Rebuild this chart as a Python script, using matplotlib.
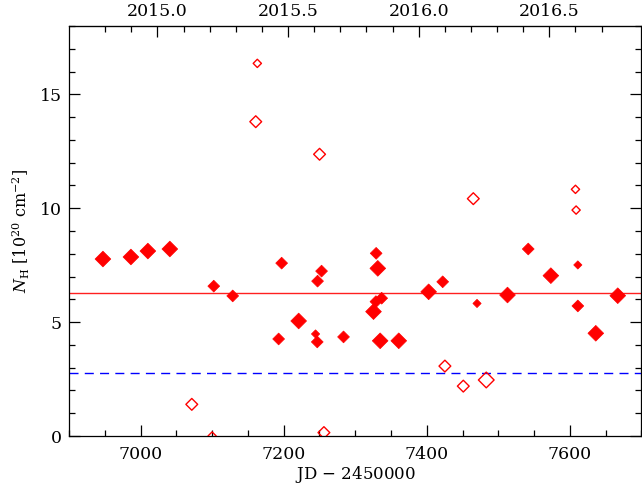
import numpy as np
import matplotlib.pyplot as plt
from matplotlib.ticker import MultipleLocator, FixedLocator

# Data
#------------------------------------------------
# filled diamonds (JD - 2450000, N_H in 1e20 cm^-2, weight 1..3)
filled_jd = [6947.4, 6986.5, 7010.2, 7040.9, 7102.3, 7128.8, 7197.2, 7193.0,
             7221.0, 7247.4, 7253.0, 7244.6, 7247.0, 7283.7, 7329.3, 7331.6,
             7337.0, 7329.0, 7325.6, 7334.9, 7360.9, 7402.7, 7422.3, 7470.3,
             7512.9, 7541.9, 7573.5, 7611.2, 7611.2, 7636.3, 7667.0]
filled_nh = [7.77, 7.86, 8.12, 8.21, 6.58, 6.15, 7.59, 4.26,
             5.05, 6.80, 7.24, 4.48, 4.13, 4.35, 8.02, 7.36,
             6.05, 5.90, 5.46, 4.18, 4.18, 6.33, 6.77, 5.82,
             6.19, 8.21, 7.04, 7.51, 5.71, 4.51, 6.16]
filled_wt = [3, 3, 3, 3, 2, 2, 2, 2,
             3, 2, 2, 1, 2, 2, 2, 3,
             2, 2, 3, 3, 3, 3, 2, 1,
             3, 2, 3, 1, 2, 3, 3]

# open diamonds
open_jd = [7163.2, 7161.0, 7250.2, 7465.1, 7607.9, 7608.8,
           7071.6, 7100.0, 7256.3, 7425.4, 7451.1, 7483.2]
open_nh = [16.36, 13.80, 12.37, 10.42, 10.83, 9.92,
           1.39, 0.0, 0.15, 3.07, 2.19, 2.46]
open_wt = [1, 2, 2, 2, 1, 1,
           2, 1, 2, 2, 2, 3]

nh_mean = 6.28     # solid red line
nh_gal = 2.75      # dashed blue line
year_ticks = [2015.0, 2015.5, 2016.0, 2016.5]
#------------------------------------------------

plt.rcParams['font.family'] = 'DejaVu Serif'
plt.rcParams['mathtext.fontset'] = 'dejavuserif'
plt.rcParams['font.size'] = 12

size_of = {1: 4.2, 2: 6.0, 3: 8.0}

fig = plt.figure(figsize=(6.42, 4.91), dpi=100)
ax = fig.add_axes([0.1075, 0.112, 0.8915, 0.835])

ax.axhline(nh_mean, color='#ff2020', lw=1.0, zorder=1)
ax.axhline(nh_gal, color='#0000ff', lw=1.0, dashes=(6.5, 4.5), zorder=1)

s_f = [size_of[w]**2 for w in filled_wt]
ax.scatter(filled_jd, filled_nh, s=s_f, marker='D', color='red',
           edgecolors='red', linewidths=0.5, zorder=3)
s_o = [size_of[w]**2 for w in open_wt]
ax.scatter(open_jd, open_nh, s=s_o, marker='D', facecolors='none',
           edgecolors='red', linewidths=1.0, zorder=3)

ax.set_xlim(6900, 7700)
ax.set_ylim(0, 18)
ax.xaxis.set_major_locator(MultipleLocator(200))
ax.xaxis.set_minor_locator(MultipleLocator(50))
ax.yaxis.set_major_locator(MultipleLocator(5))
ax.yaxis.set_minor_locator(MultipleLocator(1))
ax.tick_params(which='both', direction='in', top=False, right=True, width=0.9,
               labelsize=12.5)
ax.tick_params(which='major', length=8)
ax.tick_params(which='minor', length=4)
ax.tick_params(axis='x', pad=7)
ax.tick_params(axis='y', pad=5)

ax.set_xlabel('JD $-$ 2450000', labelpad=1)
ax.set_ylabel(r'$N_{\rm H}$ [10$^{20}$ cm$^{-2}$]', fontsize=11.5, labelpad=6)

# top axis: decimal year
def jd2yr(x):
    return 2015.0 + (np.asarray(x) - 7023.5) / 365.25

def yr2jd(y):
    return 7023.5 + (np.asarray(y) - 2015.0) * 365.25

top = ax.secondary_xaxis('top', functions=(jd2yr, yr2jd))
top.xaxis.set_major_locator(FixedLocator(year_ticks))
top.xaxis.set_minor_locator(FixedLocator(np.arange(2014.8, 2016.75, 0.1)))
top.xaxis.set_major_formatter(plt.FormatStrFormatter('%.1f'))
top.tick_params(which='both', direction='in', width=0.9, pad=4, labelsize=12.5)
top.tick_params(which='major', length=8)
top.tick_params(which='minor', length=4)

for sp in ax.spines.values():
    sp.set_linewidth(0.9)

fig.savefig('out.png', dpi=100)
